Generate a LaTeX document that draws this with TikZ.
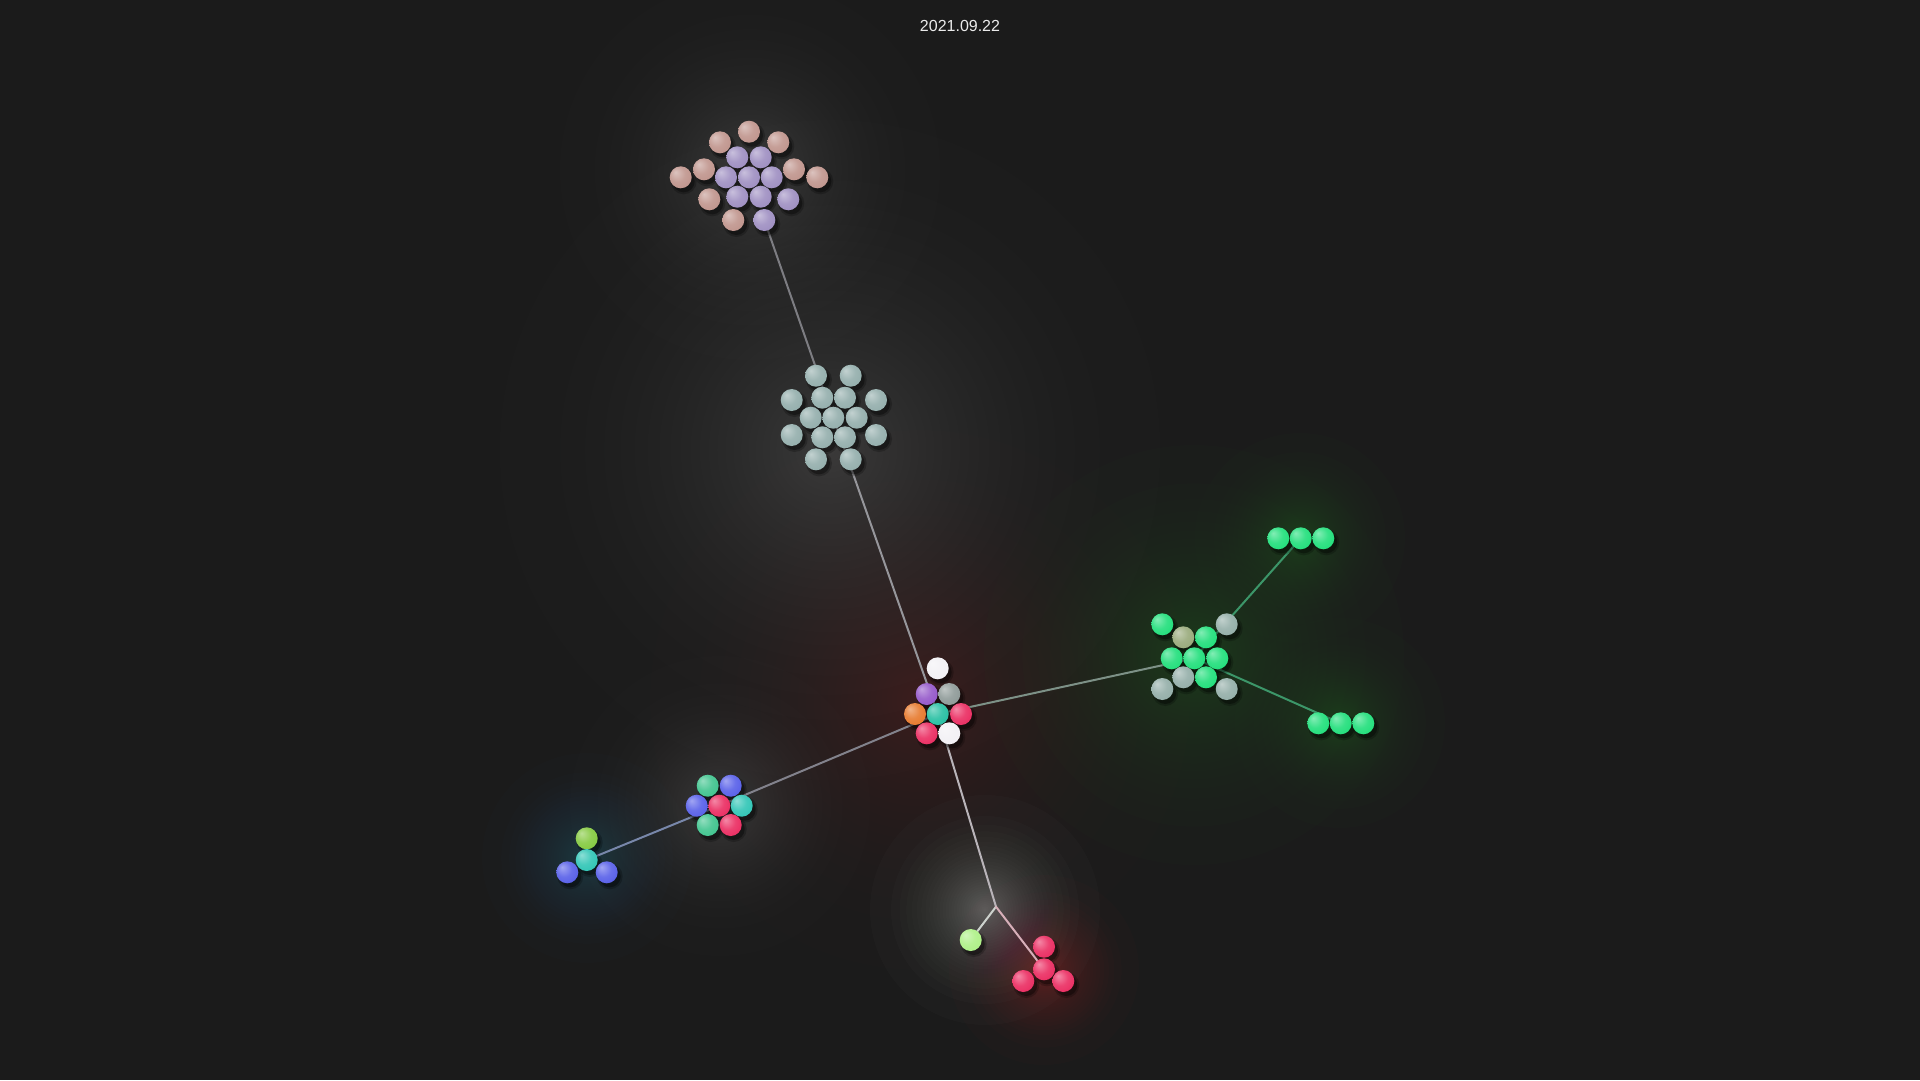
\documentclass[tikz,border=0pt]{standalone}
\usepackage{fontspec}
\setmainfont{Liberation Sans}
\pgfdeclarelayer{glowlayer}
\pgfdeclarelayer{edgelayer}
\pgfdeclarelayer{shadowlayer}
\pgfsetlayers{glowlayer,edgelayer,shadowlayer,main}
\definecolor{bg}{RGB}{27,27,27}
\definecolor{datec}{RGB}{235,235,235}
\definecolor{pinkb}{RGB}{190,146,138}
\definecolor{lavb}{RGB}{156,140,192}
\definecolor{greyb}{RGB}{145,172,170}
\definecolor{cwhite}{RGB}{242,240,244}
\definecolor{cpurple}{RGB}{146,84,200}
\definecolor{cgrey}{RGB}{140,152,150}
\definecolor{corange}{RGB}{230,118,40}
\definecolor{cteal}{RGB}{34,190,160}
\definecolor{cred}{RGB}{234,40,94}
\definecolor{mint}{RGB}{28,222,120}
\definecolor{egrey}{RGB}{145,172,166}
\definecolor{olive}{RGB}{150,168,120}
\definecolor{lgreen}{RGB}{60,195,140}
\definecolor{lblue}{RGB}{84,92,232}
\definecolor{lteal}{RGB}{44,196,180}
\definecolor{lime}{RGB}{130,200,60}
\definecolor{pale}{RGB}{172,240,132}
% glow colours
\definecolor{gtop}{RGB}{160,135,135}
\definecolor{ggrey}{RGB}{155,160,160}
\definecolor{gcent}{RGB}{150,95,105}
\definecolor{ggreen}{RGB}{40,200,110}
\definecolor{gleft}{RGB}{130,135,190}
\definecolor{gsmall}{RGB}{50,140,210}
\definecolor{gwhite}{RGB}{225,230,222}
\definecolor{gred}{RGB}{235,40,90}
% edge colours
\definecolor{k1}{RGB}{125,125,130}
\definecolor{k2}{RGB}{150,150,155}
\definecolor{k3}{RGB}{125,145,135}
\definecolor{k4}{RGB}{60,150,105}
\definecolor{k5}{RGB}{130,130,140}
\definecolor{k6}{RGB}{120,135,170}
\definecolor{k7}{RGB}{185,180,185}
\definecolor{k8}{RGB}{205,210,205}
\definecolor{k9}{RGB}{215,175,185}
\colorlet{ballc}{white}
\pgfdeclareradialshading[ballc]{softball}{\pgfqpoint{-12bp}{12bp}}{color(0bp)=(ballc!55!white); color(18bp)=(ballc!88!white); color(36bp)=(ballc); color(50bp)=(ballc!78!black)}
\tikzset{
  ballnode/.style={circle, inner sep=0pt, minimum size=22pt, shading=softball},
  bc/.code={\colorlet{ballc}{#1}},
  link/.style={line width=2pt, line cap=round},
}
\newcommand{\ball}[4]{%
  \begin{pgfonlayer}{shadowlayer}
    \fill[black, opacity=0.22] (#2+3,#3+4) circle[radius=13];
    \fill[black, opacity=0.35] (#2+3,#3+4) circle[radius=11];
  \end{pgfonlayer}
  \node[ballnode, bc=#4] (#1) at (#2,#3) {};}
\newcommand{\glowspot}[5]{%
  \foreach \k in {0,...,29}{\fill[fill=#4, opacity=#5] (#1,#2) circle[radius={#3*(1-sqrt(\k/30))}];}}
\begin{document}
\begin{tikzpicture}[x=1pt,y=-1pt]
\useasboundingbox (0,0) rectangle (1920,1080);
\begin{pgfonlayer}{glowlayer}
  \fill[bg] (0,0) rectangle (1920,1080);
  \glowspot{750}{170}{190}{gtop}{0.011}
  \glowspot{830}{450}{330}{ggrey}{0.011}
  \glowspot{920}{700}{270}{gcent}{0.011}
  \glowspot{1194}{655}{210}{ggreen}{0.012}
  \glowspot{1300}{538}{105}{ggreen}{0.012}
  \glowspot{1340}{723}{105}{ggreen}{0.012}
  \glowspot{720}{806}{150}{gleft}{0.011}
  \glowspot{587}{858}{105}{gsmall}{0.012}
  \glowspot{985}{910}{115}{gwhite}{0.016}
  \glowspot{1044}{970}{95}{gred}{0.014}
\end{pgfonlayer}

\node[text=datec, font=\fontsize{16}{19}\selectfont] (date) at (960,26) {2021.09.22};

% top cluster
\ball{t1}{749}{131.7}{pinkb}
\ball{t2}{720}{142.3}{pinkb}
\ball{t3}{778.3}{142.3}{pinkb}
\ball{t4}{737.3}{157.3}{lavb}
\ball{t5}{760.7}{157.3}{lavb}
\ball{t6}{680.7}{177.3}{pinkb}
\ball{t7}{704}{169.3}{pinkb}
\ball{t8}{726}{177.3}{lavb}
\ball{t9}{749}{177.3}{lavb}
\ball{t10}{771.7}{177.3}{lavb}
\ball{t11}{794}{169.3}{pinkb}
\ball{t12}{817.3}{177.3}{pinkb}
\ball{t13}{709.3}{199.3}{pinkb}
\ball{t14}{737.3}{196.7}{lavb}
\ball{t15}{760.7}{196.7}{lavb}
\ball{t16}{788.3}{199.3}{lavb}
\ball{t17}{733.3}{220}{pinkb}
\ball{t18}{764.3}{220}{lavb}

% grey cluster
\ball{g1}{816}{375.7}{greyb}
\ball{g2}{850.7}{375.7}{greyb}
\ball{g3}{791.7}{400}{greyb}
\ball{g4}{822.3}{397.7}{greyb}
\ball{g5}{845}{397.7}{greyb}
\ball{g6}{876}{400}{greyb}
\ball{g7}{810.7}{417.7}{greyb}
\ball{g8}{833.3}{417.7}{greyb}
\ball{g9}{856.7}{417.7}{greyb}
\ball{g10}{791.7}{435}{greyb}
\ball{g11}{822.3}{437.3}{greyb}
\ball{g12}{845}{437.3}{greyb}
\ball{g13}{876}{435}{greyb}
\ball{g14}{816}{459.3}{greyb}
\ball{g15}{850.7}{459.3}{greyb}

% central cluster
\ball{c1}{937.7}{668.3}{cwhite}
\ball{c2}{926.7}{694}{cpurple}
\ball{c3}{949.3}{694}{cgrey}
\ball{c4}{915}{714}{corange}
\ball{c5}{937.7}{714}{cteal}
\ball{c6}{961}{714}{cred}
\ball{c7}{926.7}{733.3}{cred}
\ball{c8}{949.3}{733.3}{cwhite}

% green cluster
\ball{e1}{1162.3}{624.3}{mint}
\ball{e2}{1226.7}{624.3}{egrey}
\ball{e3}{1183.3}{637.3}{olive}
\ball{e4}{1206}{637.3}{mint}
\ball{e5}{1171.7}{658.3}{mint}
\ball{e6}{1194.3}{658.3}{mint}
\ball{e7}{1217.3}{658.3}{mint}
\ball{e8}{1183.3}{677.3}{egrey}
\ball{e9}{1206}{677.3}{mint}
\ball{e10}{1162.3}{689}{egrey}
\ball{e11}{1226.7}{689}{egrey}

% green triples
\ball{a1}{1278.3}{538.3}{mint}
\ball{a2}{1300.7}{538.3}{mint}
\ball{a3}{1323.3}{538.3}{mint}
\ball{b1}{1318.3}{723.3}{mint}
\ball{b2}{1340.7}{723.3}{mint}
\ball{b3}{1363.3}{723.3}{mint}

% left cluster
\ball{l1}{707.7}{785.7}{lgreen}
\ball{l2}{730.7}{785.7}{lblue}
\ball{l3}{696.7}{805.7}{lblue}
\ball{l4}{719.3}{805.7}{cred}
\ball{l5}{741.7}{805.7}{lteal}
\ball{l6}{707.7}{825}{lgreen}
\ball{l7}{730.7}{825}{cred}

% small left cluster
\ball{s1}{586.7}{838.3}{lime}
\ball{s2}{586.7}{860}{lteal}
\ball{s3}{567.3}{872.3}{lblue}
\ball{s4}{606.7}{872.3}{lblue}

% bottom
\ball{lg}{970.7}{940}{pale}
\ball{r1}{1044}{946.7}{cred}
\ball{r2}{1044}{969.3}{cred}
\ball{r3}{1023.3}{981}{cred}
\ball{r4}{1063.3}{981}{cred}
\coordinate (j) at (996,906.7);

\begin{pgfonlayer}{edgelayer}
  \draw[link, k1] (t18.center) -- (g8.center);
  \draw[link, k2] (g8.center) -- (c5.center);
  \draw[link, k3] (c5.center) -- (e6.center);
  \draw[link, k4] (e6.center) -- (a2.center);
  \draw[link, k4] (e6.center) -- (b2.center);
  \draw[link, k5] (c5.center) -- (l4.center);
  \draw[link, k6] (l4.center) -- (s2.center);
  \draw[link, k7] (c5.center) -- (j);
  \draw[link, k8] (j) -- (lg.center);
  \draw[link, k9] (j) -- (r2.center);
\end{pgfonlayer}
\end{tikzpicture}
\end{document}
